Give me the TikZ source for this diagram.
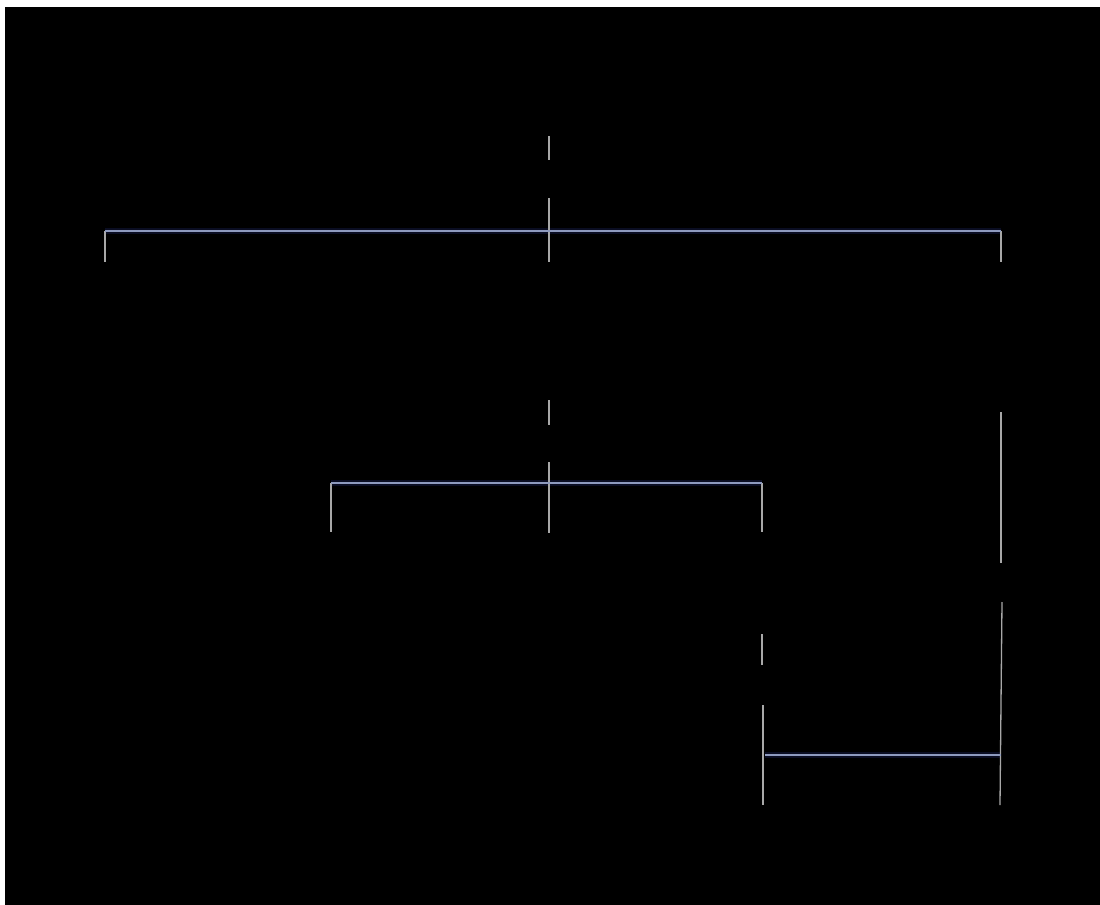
\documentclass[tikz,border=0pt]{standalone}
\usepackage{xcolor}
\usepackage{tikz}

\definecolor{linkgray}{HTML}{A8A8A8}
\definecolor{barblue}{HTML}{8E9ABE}
\definecolor{barglow}{HTML}{0A0D22}

\begin{document}
\begin{tikzpicture}[x=1bp, y=-1bp,
    vlink/.style={draw=linkgray, line width=1.3bp},
    hbar/.style={draw=barblue, line width=1.3bp},
    hglow/.style={draw=barglow, line width=6bp}]
                \useasboundingbox (0,0) rectangle (1100,905);
                \fill[white] (0,0) rectangle (1100,905);
                \fill[black] (5,7) rectangle (1110,915);

                % top bar
                \coordinate (rootA) at (549,136);
                \coordinate (rootB) at (549,160);
                \coordinate (topIn) at (549,198);
                \coordinate (topMid) at (549,231);
                \coordinate (topL) at (105,231);
                \coordinate (topR) at (1001,231);
                \coordinate (topLd) at (105,262);
                \coordinate (topMd) at (549,262);
                \coordinate (topRd) at (1001,262);

                % middle bar
                \coordinate (midA) at (549,400);
                \coordinate (midB) at (549,425);
                \coordinate (midIn) at (549,462);
                \coordinate (midMid) at (549,483);
                \coordinate (midL) at (331,483);
                \coordinate (midR) at (762,483);
                \coordinate (midLd) at (331,532);
                \coordinate (midMd) at (549,533);
                \coordinate (midRd) at (762,532);

                % right column
                \coordinate (rcolA) at (1001,412);
                \coordinate (rcolB) at (1001,563);
                \coordinate (rcolC) at (1002,602);
                \coordinate (rcolD) at (1000,805);

                % bottom bar
                \coordinate (lowA) at (762,634);
                \coordinate (lowB) at (762,665);
                \coordinate (lowC) at (763,705);
                \coordinate (lowD) at (763,805);
                \coordinate (lowL) at (765,755);
                \coordinate (lowR) at (1001,755);

                \draw[hglow] (topL) -- (topR);
                \draw[hglow] (midL) -- (midR);
                \draw[hglow] (lowL) -- (lowR);

                \draw[vlink] (rootA) -- (rootB);
                \draw[vlink] (topIn) -- (topMd);
                \draw[vlink] (topL) -- (topLd);
                \draw[vlink] (topR) -- (topRd);
                \draw[vlink] (midA) -- (midB);
                \draw[vlink] (midIn) -- (midMd);
                \draw[vlink] (midL) -- (midLd);
                \draw[vlink] (midR) -- (midRd);
                \draw[vlink] (rcolA) -- (rcolB);
                \draw[vlink] (rcolC) -- (rcolD);
                \draw[vlink] (lowA) -- (lowB);
                \draw[vlink] (lowC) -- (lowD);

                \draw[hbar] (topL) -- (topR);
                \draw[hbar] (midL) -- (midR);
                \draw[hbar] (lowL) -- (lowR);
            \end{tikzpicture}
\end{document}
